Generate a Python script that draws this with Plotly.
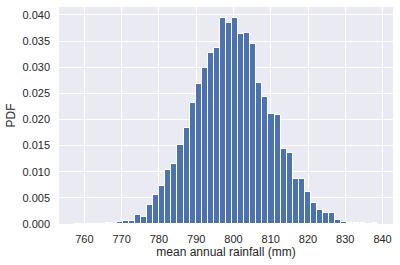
import plotly.graph_objects as go

# Histogram data (density per bin)
bin_start = 757.3
bin_width = 1.628
density = [
    0.00006, 0, 0, 0, 0, 0.0001, 0.0001, 0.0003, 0.0006, 0.0005,
    0.0018, 0.0014, 0.0037, 0.0056, 0.0073, 0.0103, 0.0115, 0.0152, 0.0184, 0.0232,
    0.0267, 0.0299, 0.0328, 0.0337, 0.0395, 0.0385, 0.0395, 0.0364, 0.0366, 0.0345,
    0.0270, 0.0244, 0.0211, 0.0209, 0.0144, 0.0135, 0.0087, 0.0087, 0.0062, 0.0041,
    0.0026, 0.0022, 0.0022, 0.0008, 0.0004, 0.0002, 0.0001, 0.0001, 0, 0.0001,
]
x_ticks = [760, 770, 780, 790, 800, 810, 820, 830, 840]
y_ticks = [0.000, 0.005, 0.010, 0.015, 0.020, 0.025, 0.030, 0.035, 0.040]

centers = [bin_start + bin_width * (i + 0.5) for i in range(len(density))]

fig = go.Figure(go.Bar(
    x=centers, y=density, width=[bin_width] * len(density),
    marker=dict(color="#4C72B0", line=dict(color="white", width=1)),
))

family = "Liberation Sans, Arial, sans-serif"
tick_font = dict(family=family, size=11, color="#262626")
label_font = dict(family=family, size=12, color="#262626")
fig.update_layout(
    width=400, height=265,
    margin=dict(l=59, r=7, t=7, b=41),
    paper_bgcolor="white", plot_bgcolor="#EAEAF2",
    font=tick_font, bargap=0, showlegend=False,
    xaxis=dict(range=[753.2, 842.8], tickvals=x_ticks, ticktext=[str(v) for v in x_ticks],
               showgrid=True, gridcolor="white", gridwidth=1, zeroline=False,
               ticks="", ticklabelstandoff=7, tickfont=tick_font,
               title=dict(text="mean annual rainfall (mm)", standoff=0, font=label_font)),
    yaxis=dict(range=[0, 0.04153], tickvals=y_ticks, ticktext=[f"{v:.3f}" for v in y_ticks],
               showgrid=True, gridcolor="white", gridwidth=1, zeroline=False,
               ticks="", ticklabelstandoff=8, tickfont=tick_font,
               title=dict(text="PDF", standoff=4, font=label_font)),
)
fig.write_html("out.html")
